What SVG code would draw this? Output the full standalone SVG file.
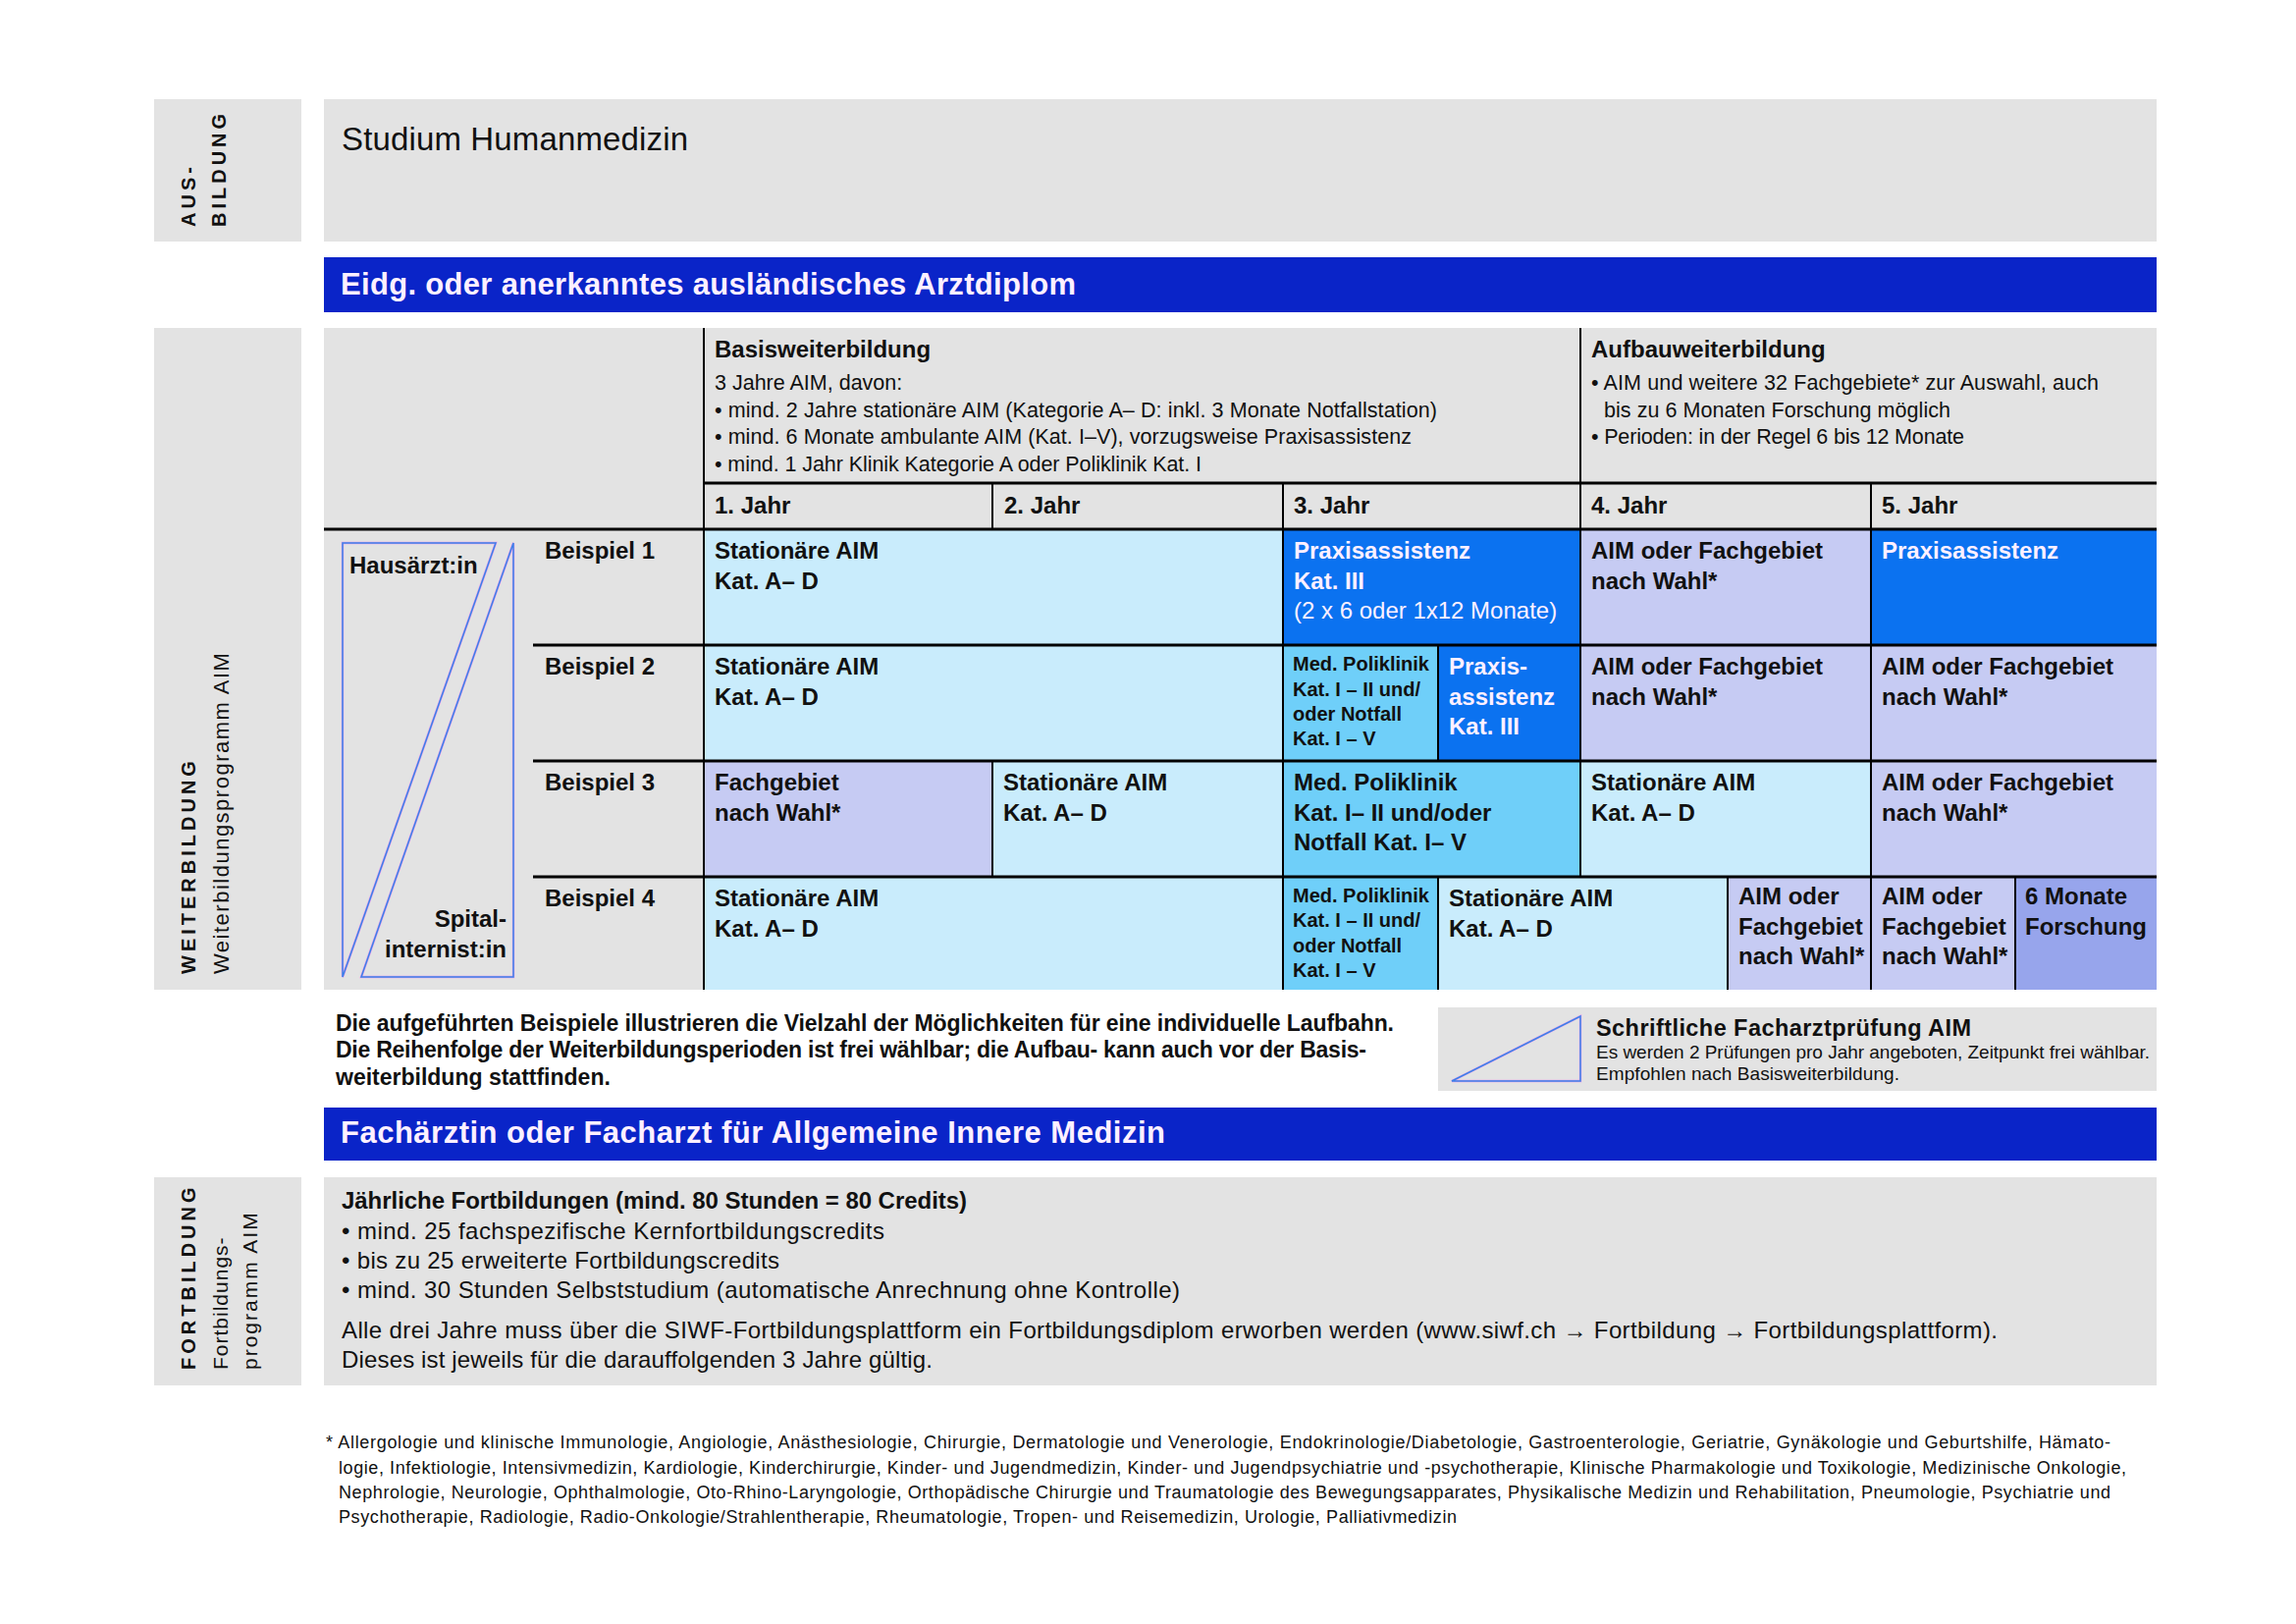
<svg xmlns="http://www.w3.org/2000/svg" width="2339" height="1654" viewBox="0 0 2339 1654">
<style>
text{font-family:"Liberation Sans",Arial,sans-serif;fill:#111}
.b{font-weight:bold}
.w{fill:#fdf0ff}
.gr{fill:#e3e3e3}
.bar{fill:#0a24c8}
.cy{fill:#c9ecfc}
.bl{fill:#0b72f0}
.lv{fill:#c6cbf3}
.sk{fill:#6fcff9}
.dl{fill:#97a5ec}
.vl{stroke:#000;stroke-width:2;fill:none}
.hl{stroke:#000;stroke-width:3;fill:none}
.tri1{stroke:#ea9aea;stroke-width:2.5;fill:none}
.tri2{stroke:#3a82e8;stroke-width:1.5;fill:none}
.f24{font-size:24px}
.f20{font-size:20px}
.f21{font-size:21.5px}
.lab{font-size:20px;font-weight:bold;letter-spacing:4px}
</style>
<rect width="2339" height="1654" fill="#fff"/>

<g id="ausbildung">
<rect class="gr" x="157" y="101" width="150" height="145"/>
<text class="lab" transform="translate(199,231) rotate(-90)">AUS-</text>
<text class="lab" transform="translate(230,231) rotate(-90)">BILDUNG</text>
</g>
<g id="studium">
<rect class="gr" x="330" y="101" width="1867" height="145"/>
<text x="348" y="153" style="font-size:33px" textLength="353">Studium Humanmedizin</text>
</g>
<g id="arztdiplom">
<rect class="bar" x="330" y="262" width="1867" height="56"/>
<text class="b w" x="347" y="300" style="font-size:31px" textLength="749">Eidg. oder anerkanntes ausländisches Arztdiplom</text>
</g>

<g id="weiterbildung-label">
<rect class="gr" x="157" y="334" width="150" height="674"/>
<text class="lab" transform="translate(199,992) rotate(-90)">WEITERBILDUNG</text>
<text style="font-size:22px;letter-spacing:1.5px" transform="translate(233,992) rotate(-90)">Weiterbildungsprogramm AIM</text>
</g>
<g id="weiterbildung-bg">
<rect class="gr" x="330" y="334" width="1867" height="674"/>
</g>

<g id="basis">
<text class="b f24" x="728" y="364">Basisweiterbildung</text>
<text class="f21" x="728" y="397">3 Jahre AIM, davon:</text>
<text class="f21" x="728" y="425" textLength="736">• mind. 2 Jahre stationäre AIM (Kategorie A– D: inkl. 3 Monate Notfallstation)</text>
<text class="f21" x="728" y="452" textLength="710">• mind. 6 Monate ambulante AIM (Kat. I–V), vorzugsweise Praxisassistenz</text>
<text class="f21" x="728" y="480" textLength="496">• mind. 1 Jahr Klinik Kategorie A oder Poliklinik Kat. I</text>
</g>
<g id="aufbau">
<text class="b f24" x="1621" y="364">Aufbauweiterbildung</text>
<text class="f21" x="1621" y="397" textLength="517">• AIM und weitere 32 Fachgebiete* zur Auswahl, auch</text>
<text class="f21" x="1634" y="425" textLength="353">bis zu 6 Monaten Forschung möglich</text>
<text class="f21" x="1621" y="452" textLength="380">• Perioden: in der Regel 6 bis 12 Monate</text>
</g>

<g id="years">
<text class="b f24" x="728" y="523">1. Jahr</text>
<text class="b f24" x="1023" y="523">2. Jahr</text>
<text class="b f24" x="1318" y="523">3. Jahr</text>
<text class="b f24" x="1621" y="523">4. Jahr</text>
<text class="b f24" x="1917" y="523">5. Jahr</text>
</g>

<g id="legend-hausarzt">
<polygon class="tri1" points="349,553 505,553 349,995"/>
<polygon class="tri2" points="349,553 505,553 349,995"/>
<polygon class="tri1" points="523,553 523,995 368,995"/>
<polygon class="tri2" points="523,553 523,995 368,995"/>
<text class="b f24" x="356" y="584">Hausärzt:in</text>
<text class="b f24" x="516" y="944" text-anchor="end">Spital-</text>
<text class="b f24" x="516" y="975" text-anchor="end">internist:in</text>
</g>

<g id="beispiele">
<text class="b f24" x="555" y="569">Beispiel 1</text>
<text class="b f24" x="555" y="687">Beispiel 2</text>
<text class="b f24" x="555" y="805">Beispiel 3</text>
<text class="b f24" x="555" y="923">Beispiel 4</text>
</g>

<g id="r1a"><rect class="cy" x="717" y="539" width="590" height="118"/>
<text class="b f24" x="728" y="569">Stationäre AIM</text><text class="b f24" x="728" y="600">Kat. A– D</text></g>
<g id="r1b"><rect class="bl" x="1307" y="539" width="303" height="118"/>
<text class="b f24 w" x="1318" y="569">Praxisassistenz</text><text class="b f24 w" x="1318" y="600">Kat. III</text>
<text class="f24 w" x="1318" y="630">(2 x 6 oder 1x12 Monate)</text></g>
<g id="r1c"><rect class="lv" x="1610" y="539" width="296" height="118"/>
<text class="b f24" x="1621" y="569">AIM oder Fachgebiet</text><text class="b f24" x="1621" y="600">nach Wahl*</text></g>
<g id="r1d"><rect class="bl" x="1906" y="539" width="291" height="118"/>
<text class="b f24 w" x="1917" y="569">Praxisassistenz</text></g>

<g id="r2a"><rect class="cy" x="717" y="657" width="590" height="118"/>
<text class="b f24" x="728" y="687">Stationäre AIM</text><text class="b f24" x="728" y="718">Kat. A– D</text></g>
<g id="r2b"><rect class="sk" x="1307" y="657" width="158" height="118"/>
<text class="b f20" x="1317" y="683">Med. Poliklinik</text><text class="b f20" x="1317" y="709">Kat. I – II und/</text>
<text class="b f20" x="1317" y="734">oder Notfall</text><text class="b f20" x="1317" y="759">Kat. I – V</text></g>
<g id="r2c"><rect class="bl" x="1465" y="657" width="145" height="118"/>
<text class="b f24 w" x="1476" y="687">Praxis-</text><text class="b f24 w" x="1476" y="718">assistenz</text><text class="b f24 w" x="1476" y="748">Kat. III</text></g>
<g id="r2d"><rect class="lv" x="1610" y="657" width="296" height="118"/>
<text class="b f24" x="1621" y="687">AIM oder Fachgebiet</text><text class="b f24" x="1621" y="718">nach Wahl*</text></g>
<g id="r2e"><rect class="lv" x="1906" y="657" width="291" height="118"/>
<text class="b f24" x="1917" y="687">AIM oder Fachgebiet</text><text class="b f24" x="1917" y="718">nach Wahl*</text></g>

<g id="r3a"><rect class="lv" x="717" y="775" width="294" height="118"/>
<text class="b f24" x="728" y="805">Fachgebiet</text><text class="b f24" x="728" y="836">nach Wahl*</text></g>
<g id="r3b"><rect class="cy" x="1011" y="775" width="296" height="118"/>
<text class="b f24" x="1022" y="805">Stationäre AIM</text><text class="b f24" x="1022" y="836">Kat. A– D</text></g>
<g id="r3c"><rect class="sk" x="1307" y="775" width="303" height="118"/>
<text class="b f24" x="1318" y="805">Med. Poliklinik</text><text class="b f24" x="1318" y="836">Kat. I– II und/oder</text>
<text class="b f24" x="1318" y="866">Notfall Kat. I– V</text></g>
<g id="r3d"><rect class="cy" x="1610" y="775" width="296" height="118"/>
<text class="b f24" x="1621" y="805">Stationäre AIM</text><text class="b f24" x="1621" y="836">Kat. A– D</text></g>
<g id="r3e"><rect class="lv" x="1906" y="775" width="291" height="118"/>
<text class="b f24" x="1917" y="805">AIM oder Fachgebiet</text><text class="b f24" x="1917" y="836">nach Wahl*</text></g>

<g id="r4a"><rect class="cy" x="717" y="893" width="590" height="115"/>
<text class="b f24" x="728" y="923">Stationäre AIM</text><text class="b f24" x="728" y="954">Kat. A– D</text></g>
<g id="r4b"><rect class="sk" x="1307" y="893" width="158" height="115"/>
<text class="b f20" x="1317" y="919">Med. Poliklinik</text><text class="b f20" x="1317" y="944">Kat. I – II und/</text>
<text class="b f20" x="1317" y="970">oder Notfall</text><text class="b f20" x="1317" y="995">Kat. I – V</text></g>
<g id="r4c"><rect class="cy" x="1465" y="893" width="295" height="115"/>
<text class="b f24" x="1476" y="923">Stationäre AIM</text><text class="b f24" x="1476" y="954">Kat. A– D</text></g>
<g id="r4d"><rect class="lv" x="1760" y="893" width="146" height="115"/>
<text class="b f24" x="1771" y="921">AIM oder</text><text class="b f24" x="1771" y="952">Fachgebiet</text><text class="b f24" x="1771" y="982">nach Wahl*</text></g>
<g id="r4e"><rect class="lv" x="1906" y="893" width="147" height="115"/>
<text class="b f24" x="1917" y="921">AIM oder</text><text class="b f24" x="1917" y="952">Fachgebiet</text><text class="b f24" x="1917" y="982">nach Wahl*</text></g>
<g id="r4f"><rect class="dl" x="2053" y="893" width="144" height="115"/>
<text class="b f24" x="2063" y="921">6 Monate</text><text class="b f24" x="2063" y="952">Forschung</text></g>

<g id="grid-lines">
<line class="vl" x1="717" y1="334" x2="717" y2="1008"/>
<line class="vl" x1="1610" y1="334" x2="1610" y2="893"/>
<line class="hl" x1="717" y1="492" x2="2197" y2="492"/>
<line class="vl" x1="1011" y1="492" x2="1011" y2="539"/>
<line class="vl" x1="1307" y1="492" x2="1307" y2="1008"/>
<line class="vl" x1="1906" y1="492" x2="1906" y2="1008"/>
<line class="hl" x1="330" y1="539" x2="2197" y2="539"/>
<line class="hl" x1="543" y1="657" x2="2197" y2="657"/>
<line class="hl" x1="543" y1="775" x2="2197" y2="775"/>
<line class="hl" x1="543" y1="893" x2="2197" y2="893"/>
<line class="vl" x1="1465" y1="657" x2="1465" y2="775"/>
<line class="vl" x1="1011" y1="775" x2="1011" y2="893"/>
<line class="vl" x1="1465" y1="893" x2="1465" y2="1008"/>
<line class="vl" x1="1760" y1="893" x2="1760" y2="1008"/>
<line class="vl" x1="2053" y1="893" x2="2053" y2="1008"/>
</g>

<g id="note">
<text class="b" style="font-size:23px" x="342" y="1050" textLength="1078">Die aufgeführten Beispiele illustrieren die Vielzahl der Möglichkeiten für eine individuelle Laufbahn.</text>
<text class="b" style="font-size:23px" x="342" y="1077" textLength="1050">Die Reihenfolge der Weiterbildungsperioden ist frei wählbar; die Aufbau- kann auch vor der Basis-</text>
<text class="b" style="font-size:23px" x="342" y="1105">weiterbildung stattfinden.</text>
</g>

<g id="legend-pruefung">
<rect class="gr" x="1465" y="1026" width="732" height="85"/>
<polygon class="tri1" points="1479,1101 1610,1101 1610,1035"/>
<polygon class="tri2" points="1479,1101 1610,1101 1610,1035"/>
<text class="b" style="font-size:23.5px" x="1626" y="1055" textLength="382">Schriftliche Facharztprüfung AIM</text>
<text style="font-size:19px" x="1626" y="1078" textLength="564">Es werden 2 Prüfungen pro Jahr angeboten, Zeitpunkt frei wählbar.</text>
<text style="font-size:19px" x="1626" y="1100" textLength="309">Empfohlen nach Basisweiterbildung.</text>
</g>

<g id="facharzt">
<rect class="bar" x="330" y="1128" width="1867" height="54"/>
<text class="b w" x="347" y="1164" style="font-size:31px" textLength="840">Fachärztin oder Facharzt für Allgemeine Innere Medizin</text>
</g>

<g id="fortbildung-label">
<rect class="gr" x="157" y="1199" width="150" height="212"/>
<text class="lab" transform="translate(199,1395) rotate(-90)">FORTBILDUNG</text>
<text style="font-size:21px;letter-spacing:1px" transform="translate(232,1395) rotate(-90)">Fortbildungs-</text>
<text style="font-size:21px;letter-spacing:2px" transform="translate(262,1395) rotate(-90)">programm AIM</text>
</g>
<g id="fortbildung">
<rect class="gr" x="330" y="1199" width="1867" height="212"/>
<text class="b f24" x="348" y="1231" textLength="637">Jährliche Fortbildungen (mind. 80 Stunden = 80 Credits)</text>
<text style="font-size:24px" x="348" y="1262" textLength="553">• mind. 25 fachspezifische Kernfortbildungscredits</text>
<text style="font-size:24px" x="348" y="1292" textLength="446">• bis zu 25 erweiterte Fortbildungscredits</text>
<text style="font-size:24px" x="348" y="1322" textLength="854">• mind. 30 Stunden Selbststudium (automatische Anrechnung ohne Kontrolle)</text>
<text style="font-size:24px" x="348" y="1363" textLength="1687">Alle drei Jahre muss über die SIWF-Fortbildungsplattform ein Fortbildungsdiplom erworben werden (www.siwf.ch → Fortbildung → Fortbildungsplattform).</text>
<text style="font-size:24px" x="348" y="1393" textLength="602">Dieses ist jeweils für die darauffolgenden 3 Jahre gültig.</text>
</g>

<g id="footnote">
<text style="font-size:18px" x="332" y="1475" textLength="1818">* Allergologie und klinische Immunologie, Angiologie, Anästhesiologie, Chirurgie, Dermatologie und Venerologie, Endokrinologie/Diabetologie, Gastroenterologie, Geriatrie, Gynäkologie und Geburtshilfe, Hämato-</text>
<text style="font-size:18px" x="345" y="1501" textLength="1821">logie, Infektiologie, Intensivmedizin, Kardiologie, Kinderchirurgie, Kinder- und Jugendmedizin, Kinder- und Jugendpsychiatrie und -psychotherapie, Klinische Pharmakologie und Toxikologie, Medizinische Onkologie,</text>
<text style="font-size:18px" x="345" y="1526" textLength="1805">Nephrologie, Neurologie, Ophthalmologie, Oto-Rhino-Laryngologie, Orthopädische Chirurgie und Traumatologie des Bewegungsapparates, Physikalische Medizin und Rehabilitation, Pneumologie, Psychiatrie und</text>
<text style="font-size:18px" x="345" y="1551" textLength="1139">Psychotherapie, Radiologie, Radio-Onkologie/Strahlentherapie, Rheumatologie, Tropen- und Reisemedizin, Urologie, Palliativmedizin</text>
</g>
</svg>
